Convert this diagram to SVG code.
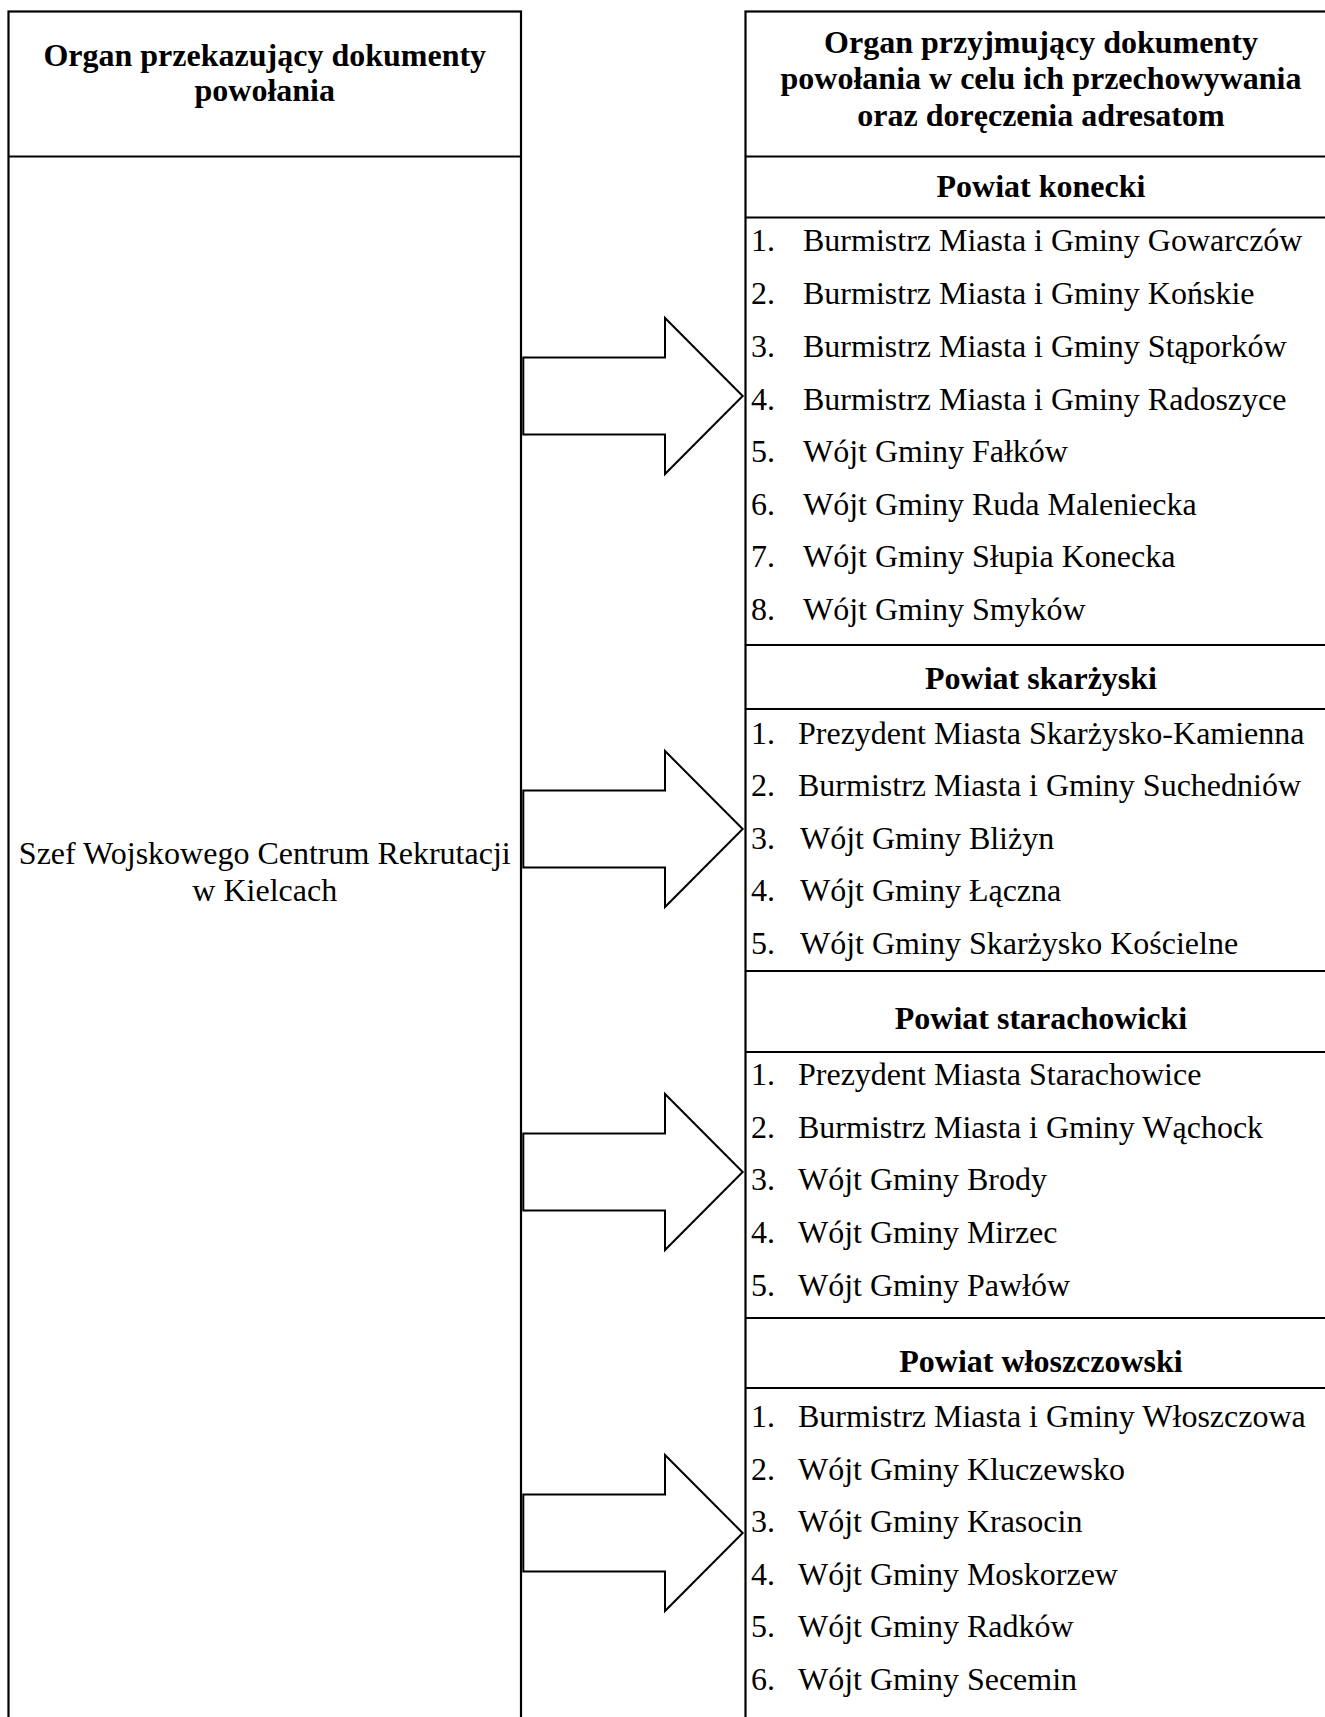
<svg xmlns="http://www.w3.org/2000/svg" width="1325" height="1717" viewBox="0 0 1325 1717">
<style>
.box{fill:none;stroke:#000;stroke-width:2.2}
.ln{stroke:#000;stroke-width:2.2}
.arrow{fill:#fff;stroke:#000;stroke-width:2;stroke-linejoin:miter}
text{font-family:"Liberation Serif","Times New Roman",serif;font-size:32px;fill:#000}
.b{font-weight:bold}
.c{text-anchor:middle}
</style>
<rect width="1325" height="1717" fill="#fff"/>
<g id="node-sender">
<rect class="box" x="8.5" y="11.5" width="512.5" height="1800"/>
<line class="ln" x1="8.5" y1="156.5" x2="521" y2="156.5"/>
<text class="b c" x="264.75" y="65.5">Organ przekazujący dokumenty</text>
<text class="b c" x="264.75" y="101">powołania</text>
<text class="c" x="264.75" y="864">Szef Wojskowego Centrum Rekrutacji</text>
<text class="c" x="264.75" y="901">w Kielcach</text>
</g>
<g id="node-receiver">
<rect class="box" x="745.5" y="11.5" width="700" height="1800"/>
<line class="ln" x1="745.5" y1="156.5" x2="1325" y2="156.5"/>
<text class="b c" x="1041" y="52.5">Organ przyjmujący dokumenty</text>
<text class="b c" x="1041" y="89">powołania w celu ich przechowywania</text>
<text class="b c" x="1041" y="125.5">oraz doręczenia adresatom</text>
</g>
<g id="section-konecki">
<line class="ln" x1="745.5" y1="217.5" x2="1325" y2="217.5"/>
<text class="b c" x="1041" y="197">Powiat konecki</text>
<text x="751" y="251">1.</text><text x="803" y="251">Burmistrz Miasta i Gminy Gowarczów</text>
<text x="751" y="304">2.</text><text x="803" y="304">Burmistrz Miasta i Gminy Końskie</text>
<text x="751" y="357">3.</text><text x="803" y="357">Burmistrz Miasta i Gminy Stąporków</text>
<text x="751" y="409.5">4.</text><text x="803" y="409.5">Burmistrz Miasta i Gminy Radoszyce</text>
<text x="751" y="462">5.</text><text x="803" y="462">Wójt Gminy Fałków</text>
<text x="751" y="514.5">6.</text><text x="803" y="514.5">Wójt Gminy Ruda Maleniecka</text>
<text x="751" y="567">7.</text><text x="803" y="567">Wójt Gminy Słupia Konecka</text>
<text x="751" y="620">8.</text><text x="803" y="620">Wójt Gminy Smyków</text>
</g>
<g id="section-skarzyski">
<line class="ln" x1="745.5" y1="645" x2="1325" y2="645"/>
<line class="ln" x1="745.5" y1="709" x2="1325" y2="709"/>
<text class="b c" x="1041" y="689">Powiat skarżyski</text>
<text x="751" y="743.5">1.</text><text x="798" y="743.5">Prezydent Miasta Skarżysko-Kamienna</text>
<text x="751" y="796">2.</text><text x="798" y="796">Burmistrz Miasta i Gminy Suchedniów</text>
<text x="751" y="848.5">3.</text><text x="800" y="848.5">Wójt Gminy Bliżyn</text>
<text x="751" y="901">4.</text><text x="800" y="901">Wójt Gminy Łączna</text>
<text x="751" y="953.5">5.</text><text x="800" y="953.5">Wójt Gminy Skarżysko Kościelne</text>
</g>
<g id="section-starachowicki">
<line class="ln" x1="745.5" y1="971" x2="1325" y2="971"/>
<line class="ln" x1="745.5" y1="1052" x2="1325" y2="1052"/>
<text class="b c" x="1041" y="1029">Powiat starachowicki</text>
<text x="751" y="1085">1.</text><text x="798" y="1085">Prezydent Miasta Starachowice</text>
<text x="751" y="1137.5">2.</text><text x="798" y="1137.5">Burmistrz Miasta i Gminy Wąchock</text>
<text x="751" y="1190">3.</text><text x="798" y="1190">Wójt Gminy Brody</text>
<text x="751" y="1243">4.</text><text x="798" y="1243">Wójt Gminy Mirzec</text>
<text x="751" y="1295.5">5.</text><text x="798" y="1295.5">Wójt Gminy Pawłów</text>
</g>
<g id="section-wloszczowski">
<line class="ln" x1="745.5" y1="1318" x2="1325" y2="1318"/>
<line class="ln" x1="745.5" y1="1388" x2="1325" y2="1388"/>
<text class="b c" x="1041" y="1372">Powiat włoszczowski</text>
<text x="751" y="1427">1.</text><text x="798" y="1427">Burmistrz Miasta i Gminy Włoszczowa</text>
<text x="751" y="1479.5">2.</text><text x="798" y="1479.5">Wójt Gminy Kluczewsko</text>
<text x="751" y="1532">3.</text><text x="798" y="1532">Wójt Gminy Krasocin</text>
<text x="751" y="1584.5">4.</text><text x="798" y="1584.5">Wójt Gminy Moskorzew</text>
<text x="751" y="1637">5.</text><text x="798" y="1637">Wójt Gminy Radków</text>
<text x="751" y="1689.5">6.</text><text x="798" y="1689.5">Wójt Gminy Secemin</text>
</g>
<g id="connectors">
<polygon class="arrow" points="523.3,357.5 665,357.5 665,318 742.7,396 665,474 665,434.5 523.3,434.5"/>
<polygon class="arrow" points="523.3,790.5 665,790.5 665,751 742.7,829 665,907 665,867.5 523.3,867.5"/>
<polygon class="arrow" points="523.3,1133.5 665,1133.5 665,1094 742.7,1172 665,1250 665,1210.5 523.3,1210.5"/>
<polygon class="arrow" points="523.3,1494.5 665,1494.5 665,1455 742.7,1533 665,1611 665,1571.5 523.3,1571.5"/>
</g>
</svg>
